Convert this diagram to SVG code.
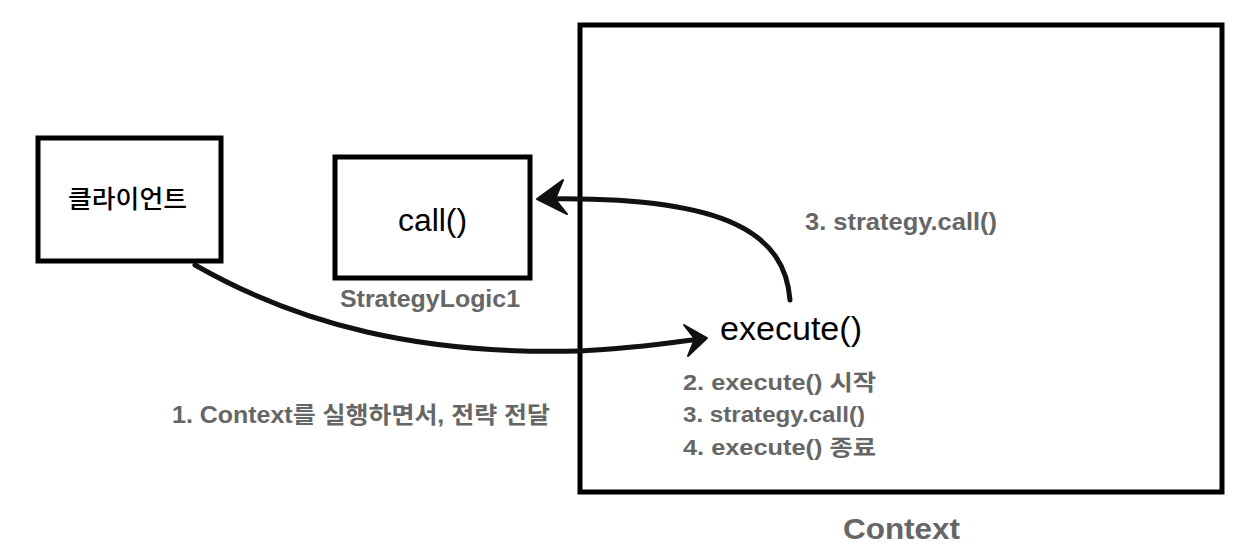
<svg xmlns="http://www.w3.org/2000/svg" width="1236" height="558" viewBox="0 0 1236 558">
<style>
.box{fill:#fff;stroke:#000;stroke-width:5}
.conn{fill:none;stroke:#111;stroke-width:5;stroke-linecap:round}
.head{fill:#111;stroke:#111;stroke-width:2;stroke-linejoin:round}
.lbl{font-family:"Liberation Sans","Noto Sans CJK KR",sans-serif;font-weight:bold;fill:#666}
.blk{font-family:"Liberation Sans","Noto Sans CJK KR",sans-serif;fill:#000}
</style>
<rect width="1236" height="558" fill="#fff"/>
<g id="context">
<rect class="box" x="580" y="25" width="642" height="467"/>
<text class="lbl" x="843" y="539" font-size="30" textLength="117" lengthAdjust="spacingAndGlyphs">Context</text>
</g>
<g id="client">
<rect class="box" x="38" y="138" width="183" height="123"/>
<text class="blk" x="68" y="208" font-size="25" font-weight="500" textLength="119" lengthAdjust="spacingAndGlyphs" font-family="'Noto Sans CJK KR',sans-serif">클라이언트</text>
</g>
<g id="strategy">
<rect class="box" x="335" y="157" width="195" height="121"/>
<text class="blk" x="398" y="231" font-size="31" textLength="69" lengthAdjust="spacingAndGlyphs">call()</text>
<text class="lbl" x="340" y="307" font-size="24" textLength="180" lengthAdjust="spacingAndGlyphs">StrategyLogic1</text>
</g>
<g id="execute">
<text class="blk" x="720" y="340" font-size="33" textLength="142" lengthAdjust="spacingAndGlyphs">execute()</text>
<text class="lbl" x="683" y="390" font-size="22" textLength="193" lengthAdjust="spacingAndGlyphs">2. execute() 시작</text>
<text class="lbl" x="683" y="422" font-size="22" textLength="182" lengthAdjust="spacingAndGlyphs">3. strategy.call()</text>
<text class="lbl" x="683" y="455" font-size="22" textLength="193" lengthAdjust="spacingAndGlyphs">4. execute() 종료</text>
</g>
<g id="connectors">
<path class="conn" d="M195,265 C300,325 420,355 580,351 C630,349 670,343 700,339"/>
<path class="head" d="M684,325 L707,338 L688,356 L695,339 Z"/>
<text class="lbl" x="172" y="423" font-size="23" textLength="378" lengthAdjust="spacingAndGlyphs">1. Context를 실행하면서, 전략 전달</text>
<path class="conn" d="M790,300 C785,235 730,196 545,199"/>
<path class="head" d="M563,180 L537,199 L567,214 L555,199 Z"/>
<text class="lbl" x="805" y="230" font-size="24" textLength="192" lengthAdjust="spacingAndGlyphs">3. strategy.call()</text>
</g>
</svg>
